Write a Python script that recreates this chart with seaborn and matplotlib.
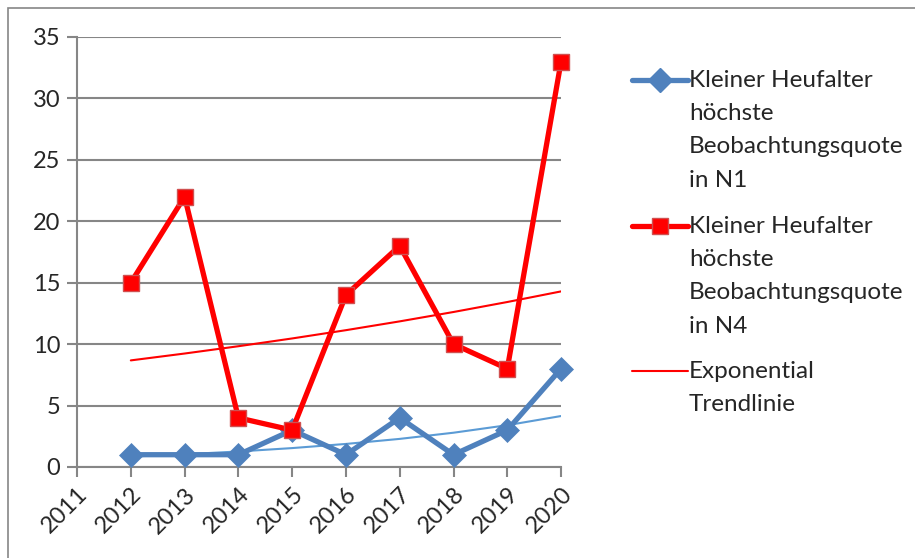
import numpy as np
import pandas as pd
import matplotlib
matplotlib.use("Agg")
import matplotlib.pyplot as plt
from matplotlib.lines import Line2D
from matplotlib.patches import Rectangle
import seaborn as sns

# Daten
jahre = [2012, 2013, 2014, 2015, 2016, 2017, 2018, 2019, 2020]
quote_n1 = [1, 1, 1, 3, 1, 4, 1, 3, 8]
quote_n4 = [15, 22, 4, 3, 14, 18, 10, 8, 33]
jahr_ticks = list(range(2011, 2021))
y_ticks = [0, 5, 10, 15, 20, 25, 30, 35]

label_n1 = "Kleiner Heufalter\nhöchste\nBeobachtungsquote\nin N1"
label_n4 = "Kleiner Heufalter\nhöchste\nBeobachtungsquote\nin N4"
label_trend = "Exponential\nTrendlinie"

BLAU = "#4f81bd"
BLAU_TREND = "#5b9bd5"
ROT = "#ff0000"
GRAU = "#868686"
FS = 17

sns.set_style("white")
plt.rcParams["font.family"] = ["Lato", "DejaVu Sans"]


def exp_trend(y):
    """Exponentielle Trendlinie wie in Excel (Fit auf log-Werte)."""
    x = np.arange(1, len(y) + 1)
    b, a = np.polyfit(x, np.log(y), 1)
    return np.exp(a + b * x)


fig = plt.figure(figsize=(9.15, 5.58), dpi=100)
ax = fig.add_axes([0.0842, 0.1631, 0.5290, 0.7706])

df = pd.DataFrame({"jahr": jahre, "n1": quote_n1, "n4": quote_n4})

# Trendlinien
ax.plot(jahre, exp_trend(quote_n1), color=BLAU_TREND, lw=1.5, zorder=3)
ax.plot(jahre, exp_trend(quote_n4), color=ROT, lw=1.5, zorder=3)

sns.lineplot(data=df, x="jahr", y="n1", ax=ax, color=BLAU, lw=3.8,
             marker="D", markersize=12, markeredgecolor=BLAU,
             markeredgewidth=0.5, zorder=4, clip_on=False)
sns.lineplot(data=df, x="jahr", y="n4", ax=ax, color=ROT, lw=3.8,
             marker="s", markersize=12, markeredgecolor="#d05050",
             markeredgewidth=1.0, zorder=5, clip_on=False)

ax.set_xlim(2011, 2020)
ax.set_ylim(0, 35)
ax.set_xticks(jahr_ticks)
ax.set_xticklabels([str(j) for j in jahr_ticks], rotation=45, ha="right",
                   rotation_mode="anchor", fontsize=FS)
ax.set_yticks(y_ticks)
ax.set_yticklabels([str(v) for v in y_ticks], fontsize=FS)
ax.set_xlabel("")
ax.set_ylabel("")

ax.grid(axis="y", color=GRAU, lw=1.5)
ax.set_axisbelow(True)
for s in ["top", "right"]:
    ax.spines[s].set_visible(False)
for s in ["left", "bottom"]:
    ax.spines[s].set_color(GRAU)
    ax.spines[s].set_linewidth(1.5)
ax.tick_params(axis="both", length=7, width=1.5, color=GRAU, pad=5,
               bottom=True, left=True)

# Rahmen des Diagrammbereichs (oben und links sichtbar)
fig.add_artist(Rectangle((8 / 915, -0.1), 1.2, 1 - 8 / 558 + 0.1,
                         transform=fig.transFigure, fill=False,
                         edgecolor=GRAU, lw=1.2))


# Legende
def fx(px):
    return px / 915


def fy(py):
    return 1 - py / 558


eintraege = [
    (80, label_n1, dict(color=BLAU, lw=3.8, marker="D", markersize=12,
                        markeredgecolor=BLAU)),
    (226, label_n4, dict(color=ROT, lw=3.8, marker="s", markersize=12,
                         markeredgecolor="#d05050")),
    (371, label_trend, dict(color=ROT, lw=1.5)),
]
for py, text, stil in eintraege:
    fig.add_artist(Line2D([fx(632), fx(660), fx(688)], [fy(py)] * 3,
                          transform=fig.transFigure, solid_capstyle="round",
                          markevery=[1], **stil))
    fig.text(fx(689), fy(py - 10), text, fontsize=17.5, va="top", ha="left",
             linespacing=1.72, transform=fig.transFigure)

fig.savefig("out.png", dpi=100)
